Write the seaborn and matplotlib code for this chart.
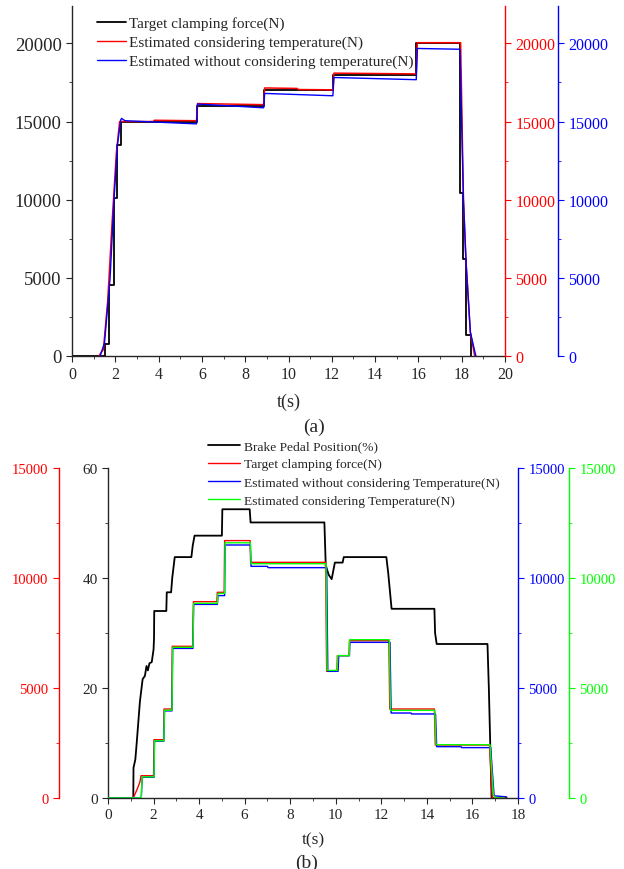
import numpy as np
import pandas as pd
import seaborn as sns
import matplotlib
matplotlib.use("Agg")
import matplotlib.pyplot as plt
from matplotlib.ticker import MultipleLocator, AutoMinorLocator
from matplotlib.lines import Line2D

# ---------------- data, panel (a) ----------------
t_target_a = [0, 1.53, 1.73, 1.92, 2.08, 2.25, 5.78, 8.87, 12.06, 15.90, 17.92, 18.07, 18.18, 18.41]
f_target_a = [0, 750, 4500, 10100, 13500, 15000, 16000, 17000, 17950, 20000, 10450, 6200, 1350, 0]

t_temp_a = [1.25, 1.45, 1.65, 1.85, 2.05, 2.20, 2.35, 3.75, 3.80, 5.75, 5.80, 8.85, 8.90, 10.40,
            10.45, 12.05, 12.10, 15.90, 15.95, 17.95, 18.08, 18.20, 18.40, 18.60]
f_temp_a = [0, 400, 3500, 8500, 13000, 15000, 15000, 15000, 15080, 15050, 16150, 16080, 17150, 17120,
            17050, 17030, 18100, 18050, 20050, 20050, 10000, 6000, 1500, 0]

t_notemp_a = [1.30, 1.50, 1.76, 1.94, 2.10, 2.25, 2.29, 2.45, 5.75, 5.80, 8.85, 8.90, 12.05, 12.10,
              15.90, 15.95, 17.92, 18.08, 18.20, 18.40, 18.65]
f_notemp_a = [0, 800, 5000, 10000, 13500, 15100, 15200, 15050, 14850, 16120, 15880, 16800, 16650, 17820,
              17680, 19680, 19630, 10000, 6000, 1500, 0]

# ---------------- data, panel (b) ----------------
t_pedal = [0, 1.11, 1.12, 1.20, 1.26, 1.40, 1.52, 1.62, 1.69, 1.75, 1.82, 1.92, 2.00, 2.02, 2.03,
           2.56, 2.58, 2.77, 2.82, 2.93, 3.66, 3.72, 3.80, 5.00, 5.02, 6.22, 6.26, 9.50, 9.56,
           9.70, 9.82, 9.96, 10.30, 10.35, 12.22, 12.30, 12.45, 14.33, 14.36, 14.43, 16.66,
           16.72, 16.84, 17.50]
pedal = [0, 0, 5.5, 7, 10, 17.5, 21.6, 22.2, 24, 23.2, 24.5, 24.7, 27, 29, 34,
         34, 37.4, 37.4, 40, 43.8, 43.8, 45.9, 47.7, 47.7, 52.5, 52.5, 50.1, 50.1, 42.2,
         40.5, 39.8, 42.8, 42.8, 43.8, 43.8, 41, 34.4, 34.4, 30, 28, 28,
         20, 0, 0]

t_target_b = [0, 1.11, 1.30, 1.40, 1.45, 2.00, 2.02, 2.44, 2.46, 2.80, 2.82, 3.72, 3.75, 4.78, 4.80,
              5.10, 5.12, 6.24, 6.26, 9.55, 9.60, 10.05, 10.07, 10.58, 10.60, 12.33, 12.37, 14.33,
              14.37, 16.75, 16.87, 17.50]
f_target_b = [0, 0, 450, 727, 1013, 1013, 2650, 2650, 4045, 4045, 6895, 6895, 8924, 8924, 9350,
              9350, 11700, 11700, 10712, 10712, 5758, 5758, 6470, 6470, 7150, 7150, 4045, 4045,
              2409, 2409, 0, 0]

t_notemp_b = [0, 1.46, 1.50, 2.02, 2.04, 2.45, 2.48, 2.81, 2.84, 3.73, 3.76, 4.80, 4.83, 5.12, 5.14,
              6.25, 6.28, 7.00, 7.03, 9.60, 9.65, 10.10, 10.13, 10.60, 10.62, 12.38, 12.43, 13.30,
              13.33, 14.38, 14.43, 15.50, 15.53, 16.80, 16.95, 17.50]
f_notemp_b = [0, 0, 940, 940, 2580, 2580, 3960, 3960, 6800, 6800, 8800, 8800, 9200, 9200, 11500,
              11500, 10530, 10530, 10470, 10470, 5758, 5758, 6470, 6470, 7075, 7075, 3863, 3863,
              3820, 3820, 2333, 2333, 2290, 2290, 100, 50]

t_temp_b = [0, 1.46, 1.50, 2.02, 2.04, 2.45, 2.48, 2.81, 2.84, 3.73, 3.76, 4.80, 4.83, 5.12, 5.14,
            6.25, 6.28, 9.57, 9.62, 10.06, 10.09, 10.59, 10.61, 12.35, 12.40, 14.35, 14.40, 16.77,
            16.92, 17.00, 17.40]
f_temp_b = [0, 0, 960, 960, 2600, 2600, 3990, 3990, 6850, 6850, 8850, 8850, 9300, 9300, 11600,
            11600, 10650, 10650, 5800, 5800, 6470, 6470, 7195, 7195, 3985, 3985, 2424, 2424,
            150, 0, 0]

RED = "#ff0000"
BLUE = "#0000ff"
GREEN = "#00ff00"

sns.set_style("ticks")
plt.rcParams["font.family"] = ["Liberation Serif", "DejaVu Serif"]
plt.rcParams["axes.linewidth"] = 1.0
plt.rcParams["xtick.major.size"] = 4
plt.rcParams["ytick.major.size"] = 4
plt.rcParams["xtick.minor.size"] = 2.5
plt.rcParams["ytick.minor.size"] = 2.5

fig = plt.figure(figsize=(6.24, 8.70), dpi=100)


def line(ax, x, y, color, lw, **kw):
    sns.lineplot(x=x, y=y, ax=ax, color=color, lw=lw, estimator=None, sort=False, **kw)


def colour_axis(ax, side, color):
    ax.spines[side].set_color(color)
    ax.tick_params(axis="y", which="both", colors=color)


# ---------------- panel (a) ----------------
ax = fig.add_axes([72 / 624, 1 - 356.7 / 870, 433 / 624, 349.7 / 870])
ax_r = ax.twinx()
ax_b = ax.twinx()

line(ax, t_target_a, f_target_a, "black", 1.3, drawstyle="steps-post")
line(ax_r, t_temp_a, f_temp_a, RED, 1.1)
line(ax_b, t_notemp_a, f_notemp_a, BLUE, 1.0)

for a in (ax, ax_r, ax_b):
    a.set_ylim(0, 22400)
    a.yaxis.set_major_locator(MultipleLocator(5000))
    a.yaxis.set_minor_locator(AutoMinorLocator(2))
ax.set_xlim(0, 20)
ax.xaxis.set_major_locator(MultipleLocator(2))
ax.xaxis.set_minor_locator(AutoMinorLocator(2))
ax.spines["top"].set_visible(False)
ax.spines["right"].set_visible(False)
for a in (ax_r, ax_b):
    a.spines["top"].set_visible(False)
    a.spines["left"].set_visible(False)
    a.spines["bottom"].set_visible(False)
ax_b.spines["right"].set_position(("outward", 38))
colour_axis(ax_r, "right", RED)
colour_axis(ax_b, "right", BLUE)
ax.tick_params(axis="y", labelsize=13.5)
ax.tick_params(axis="x", labelsize=11.5)
ax_r.tick_params(axis="y", labelsize=11.5)
ax_b.tick_params(axis="y", labelsize=11.5)
ax.set_xlabel("t(s)", fontsize=13)
ax.xaxis.set_label_coords(0.5, -0.105)
ax.set_ylabel("")
ax_r.set_ylabel("")
ax_b.set_ylabel("")

handles_a = [Line2D([], [], color="black", lw=1.3), Line2D([], [], color=RED, lw=1.0),
             Line2D([], [], color=BLUE, lw=1.0)]
labels_a = ["Target clamping force(N)", "Estimated considering temperature(N)",
            "Estimated without considering temperature(N)"]
ax_b.legend(handles_a, labels_a, loc="upper left", bbox_to_anchor=(0.058, 0.971), frameon=False,
            fontsize=11, handlelength=1.9, handletextpad=0.2, labelspacing=0.34,
            borderaxespad=0, borderpad=0)

fig.text(314 / 624, 1 - 427 / 870, "(a)", ha="center", va="center", fontsize=14)

# ---------------- panel (b) ----------------
bx = fig.add_axes([108 / 624, 1 - 799 / 870, 410 / 624, 330 / 870])
bx_r = bx.twinx()
bx_b = bx.twinx()
bx_g = bx.twinx()

line(bx, t_pedal, pedal, "black", 1.3)
line(bx_r, t_target_b, f_target_b, RED, 1.0)
line(bx_b, t_notemp_b, f_notemp_b, BLUE, 1.0)
line(bx_g, t_temp_b, f_temp_b, GREEN, 1.0)

bx.set_ylim(0, 60)
bx.yaxis.set_major_locator(MultipleLocator(20))
bx.yaxis.set_minor_locator(AutoMinorLocator(2))
for a in (bx_r, bx_b, bx_g):
    a.set_ylim(0, 15000)
    a.yaxis.set_major_locator(MultipleLocator(5000))
    a.yaxis.set_minor_locator(AutoMinorLocator(2))
    a.spines["top"].set_visible(False)
    a.spines["bottom"].set_visible(False)
    a.set_ylabel("")
bx.set_xlim(0, 18)
bx.xaxis.set_major_locator(MultipleLocator(2))
bx.xaxis.set_minor_locator(AutoMinorLocator(2))
bx.spines["top"].set_visible(False)
bx.spines["right"].set_visible(False)
bx.set_ylabel("")

# red axis sits on the far left
bx_r.yaxis.set_ticks_position("left")
bx_r.yaxis.set_label_position("left")
bx_r.spines["right"].set_visible(False)
bx_r.spines["left"].set_visible(True)
bx_r.spines["left"].set_position(("outward", 35.3))
colour_axis(bx_r, "left", RED)

for a in (bx_b, bx_g):
    a.spines["left"].set_visible(False)
bx_g.spines["right"].set_position(("outward", 36.7))
colour_axis(bx_b, "right", BLUE)
colour_axis(bx_g, "right", GREEN)

for a in (bx, bx_r, bx_b, bx_g):
    a.tick_params(axis="both", labelsize=10.5)
bx.tick_params(axis="both", labelsize=11)
bx.set_xlabel("t(s)", fontsize=12.5)
bx.xaxis.set_label_coords(0.5, -0.10)

handles_b = [Line2D([], [], color="black", lw=1.3), Line2D([], [], color=RED, lw=1.0),
             Line2D([], [], color=BLUE, lw=1.0), Line2D([], [], color=GREEN, lw=1.0)]
labels_b = ["Brake Pedal Position(%)", "Target clamping force(N)",
            "Estimated without considering Temperature(N)", "Estimated considering Temperature(N)"]
bx_g.legend(handles_b, labels_b, loc="upper left", bbox_to_anchor=(0.244, 1.085), frameon=False,
            fontsize=9.7, handlelength=2.4, handletextpad=0.3, labelspacing=0.42,
            borderaxespad=0, borderpad=0)

fig.text(307 / 624, 1 - 863 / 870, "(b)", ha="center", va="center", fontsize=14)

fig.savefig("out.png", dpi=100)
